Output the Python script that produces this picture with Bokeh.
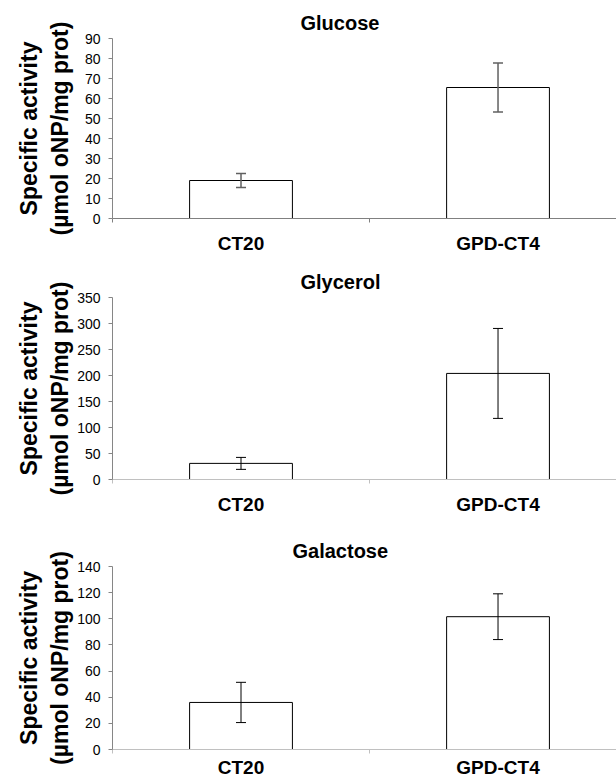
from bokeh.plotting import figure
from bokeh.models import Range1d, FixedTicker, ColumnDataSource, Whisker, TeeHead
from bokeh.layouts import column
from bokeh.embed import file_html
from bokeh.resources import INLINE

# ---- data ----
categories = ["CT20", "GPD-CT4"]
titles = ["Glucose", "Glycerol", "Galactose"]

glucose_mean = [19.0, 65.5]
glucose_err = [3.5, 12.3]
glycerol_mean = [31.0, 204.0]
glycerol_err = [11.5, 86.5]
galactose_mean = [36.0, 101.6]
galactose_err = [15.4, 17.5]

glucose_ticks = [0, 10, 20, 30, 40, 50, 60, 70, 80, 90]
glycerol_ticks = [0, 50, 100, 150, 200, 250, 300, 350]
galactose_ticks = [0, 20, 40, 60, 80, 100, 120, 140]

y_label = "Specific activity\n(\u00b5mol oNP/mg prot)"

FONT = "Liberation Sans"


def make_panel(title, means, errs, ticks, height, mb_top, mb_bottom,
               title_offset, xaxis_color, err_color, err_width,
               label_standoff, xlabel_standoff):
    xs = list(range(len(categories)))
    src = ColumnDataSource(dict(
        x=xs,
        top=means,
        upper=[m + e for m, e in zip(means, errs)],
        lower=[m - e for m, e in zip(means, errs)],
    ))
    p = figure(width=616, height=height,
               x_range=Range1d(-0.5, 1.461),
               y_range=Range1d(ticks[0], ticks[-1]),
               output_backend="svg", toolbar_location=None,
               min_border_left=112, min_border_right=0,
               min_border_top=mb_top, min_border_bottom=mb_bottom)
    p.outline_line_color = None
    p.xgrid.grid_line_color = None
    p.ygrid.grid_line_color = None
    p.background_fill_color = "white"
    p.border_fill_color = "white"

    p.title.text = title
    p.title.align = "left"
    p.title.offset = title_offset
    p.title.standoff = 9
    p.title.text_font = FONT
    p.title.text_font_size = "20px"
    p.title.text_font_style = "bold"
    p.title.text_color = "black"

    p.vbar(x="x", top="top", width=0.4, source=src,
           fill_color="white", line_color="black", line_width=1)

    w = Whisker(source=src, base="x", upper="upper", lower="lower",
                line_color=err_color, line_width=err_width, level="annotation",
                upper_head=TeeHead(size=10, line_color=err_color, line_width=err_width),
                lower_head=TeeHead(size=10, line_color=err_color, line_width=err_width))
    p.add_layout(w)

    # x axis
    xa = p.xaxis[0]
    xa.ticker = FixedTicker(ticks=xs, minor_ticks=[-0.5, 0.5, 1.5])
    xa.major_label_overrides = {i: c for i, c in zip(xs, categories)}
    xa.major_tick_out = 0
    xa.major_tick_in = 0
    xa.minor_tick_out = 4
    xa.minor_tick_in = 0
    xa.axis_line_color = xaxis_color
    xa.minor_tick_line_color = xaxis_color
    xa.major_label_text_font = FONT
    xa.major_label_text_font_size = "19px"
    xa.major_label_text_font_style = "bold"
    xa.major_label_text_color = "black"
    xa.major_label_standoff = xlabel_standoff

    # y axis
    ya = p.yaxis[0]
    ya.ticker = FixedTicker(ticks=ticks)
    ya.major_tick_out = 4
    ya.major_tick_in = 0
    ya.minor_tick_out = 0
    ya.minor_tick_in = 0
    ya.axis_line_color = "#868686"
    ya.major_tick_line_color = "#868686"
    ya.major_label_text_font = FONT
    ya.major_label_text_font_size = "14px"
    ya.major_label_text_color = "black"
    ya.major_label_standoff = 8
    ya.axis_label = y_label
    ya.axis_label_text_font = FONT
    ya.axis_label_text_font_size = "23px"
    ya.axis_label_text_font_style = "bold"
    ya.axis_label_text_color = "black"
    ya.axis_label_text_line_height = 1.2
    ya.axis_label_standoff = label_standoff
    return p


p1 = make_panel(titles[0], glucose_mean, glucose_err, glucose_ticks,
                261, 38, 43, 188, "#808080", "#606060", 1.5, 9, 10)
p2 = make_panel(titles[1], glycerol_mean, glycerol_err, glycerol_ticks,
                269, 36, 51, 188, "#c0c0c0", "black", 1, 1, 10)
p3 = make_panel(titles[2], galactose_mean, galactose_err, galactose_ticks,
                250, 36, 29, 180, "#c0c0c0", "black", 1, 1, 3)

layout = column(p1, p2, p3, spacing=0)

open("out.html", "w").write(file_html(layout, INLINE))
